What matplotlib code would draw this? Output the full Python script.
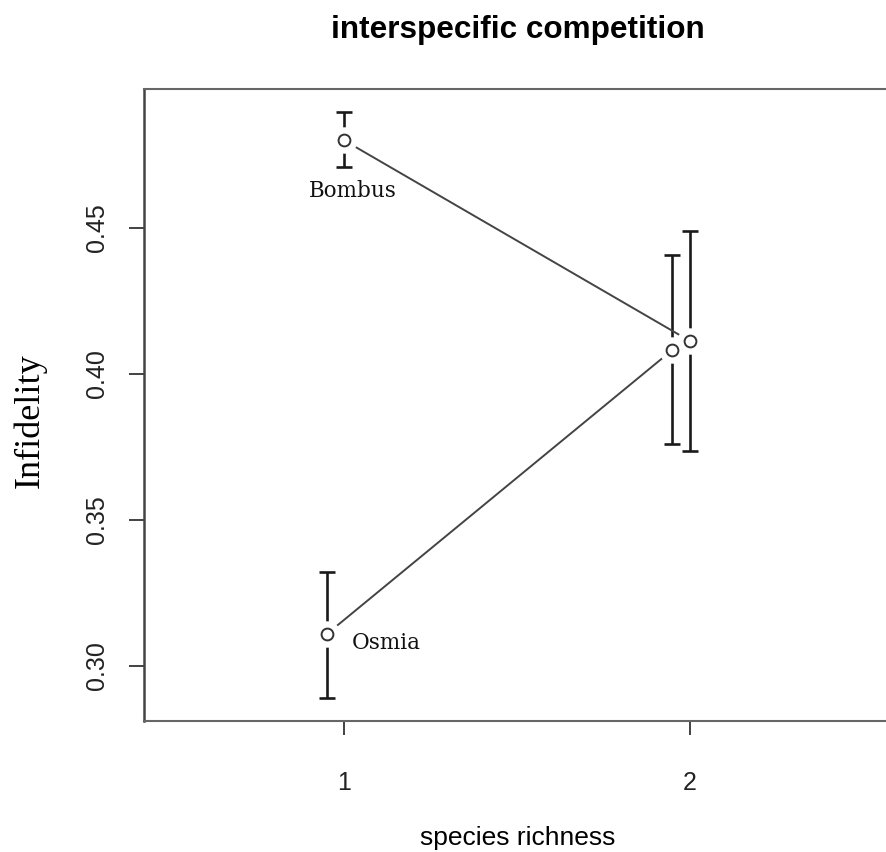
import matplotlib
matplotlib.use('Agg')
import matplotlib.pyplot as plt

# species richness levels, dodged a little for Osmia
richness      = [1, 2]
osmia_dodge   = -0.05

bombus_mean   = [0.4798, 0.4112]
bombus_lo     = [0.4706, 0.3736]
bombus_hi     = [0.4894, 0.4488]

osmia_mean    = [0.3109, 0.4081]
osmia_lo      = [0.2891, 0.3758]
osmia_hi      = [0.3320, 0.4407]

y_ticks       = [0.30, 0.35, 0.40, 0.45]
y_ticklabels  = ['0.30', '0.35', '0.40', '0.45']

SANS  = ['Liberation Sans', 'DejaVu Sans']
SERIF = ['DejaVu Serif']
TIMES = ['Liberation Serif', 'DejaVu Serif']
LINE  = '#444444'


def main():
    fig = plt.figure(figsize=(8.86, 8.52), dpi=100)
    ax = fig.add_axes([0.1625, 0.1538, 0.842, 0.7417])

    xb = list(richness)
    xo = [x + osmia_dodge for x in richness]

    # error bars
    for xs, m, lo, hi in ((xb, bombus_mean, bombus_lo, bombus_hi),
                          (xo, osmia_mean, osmia_lo, osmia_hi)):
        ax.errorbar(xs, m, yerr=[[a - b for a, b in zip(m, lo)],
                                 [b - a for a, b in zip(m, hi)]],
                    fmt='none', ecolor='#1a1a1a', elinewidth=1.9,
                    capsize=5.5, capthick=1.9, zorder=1)

    # connecting lines
    ax.plot(xb, bombus_mean, color=LINE, lw=1.4, zorder=2)
    ax.plot(xo, osmia_mean, color=LINE, lw=1.4, zorder=2)

    # white gap around points (R type="b"), then open circles
    for xs, m in ((xb, bombus_mean), (xo, osmia_mean)):
        ax.plot(xs, m, 'o', ms=18, mfc='white', mec='white', zorder=3)
    for xs, m in ((xb, bombus_mean), (xo, osmia_mean)):
        ax.plot(xs, m, 'o', ms=8.5, mfc='white', mec='#333333', mew=1.4,
                zorder=4)

    ax.text(1.026, 0.4624, 'Bombus', family=SERIF, fontsize=15.5,
            ha='center', va='center', color='#111111')
    ax.text(1.122, 0.3078, 'Osmia', family=SERIF, fontsize=15.5,
            ha='center', va='center', color='#111111')

    ax.set_xlim(0.42, 2.58)
    ax.set_ylim(0.2811, 0.4974)
    ax.set_xticks(richness)
    ax.set_xticklabels([str(r) for r in richness], family=SANS, fontsize=18)
    ax.set_yticks(y_ticks)
    ax.set_yticklabels(y_ticklabels, family=SANS, fontsize=18,
                       rotation=90, va='center')
    ax.tick_params(axis='x', length=10, width=1.2, pad=26, colors='#222222')
    ax.tick_params(axis='y', length=11, width=1.2, pad=14, colors='#222222')
    for side in ('top', 'right', 'bottom'):
        ax.spines[side].set_color('#666666')
        ax.spines[side].set_linewidth(1.5)
    ax.spines['left'].set_color('#444444')
    ax.spines['left'].set_linewidth(1.8)

    fig.text(518 / 886, 1 - 30 / 852, 'interspecific competition',
             family=SANS, fontsize=22.7, fontweight='bold',
             ha='center', va='center')
    fig.text(518 / 886, 1 - 838 / 852, 'species richness',
             family=SANS, fontsize=19, ha='center', va='center')
    fig.text(30 / 886, 1 - 421 / 852, 'Infidelity', family=TIMES,
             fontsize=26, rotation=90, ha='center', va='center')

    fig.savefig('out.png', dpi=100)


if __name__ == '__main__':
    main()
